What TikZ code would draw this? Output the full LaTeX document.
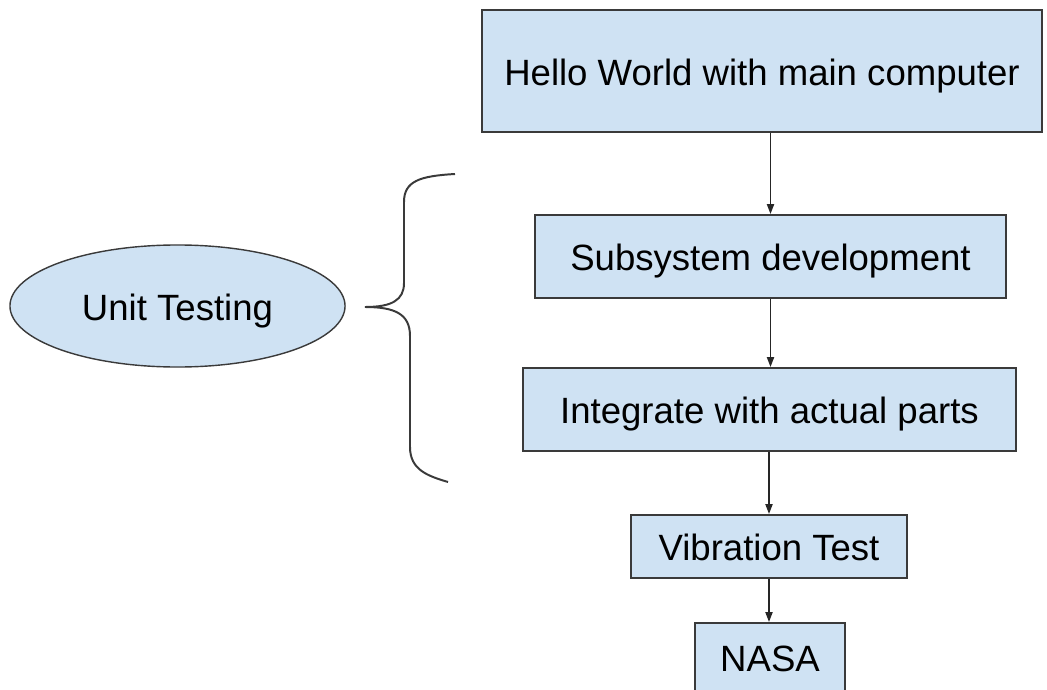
\documentclass[tikz,border=0pt]{standalone}
\usepackage{fontspec}
\setmainfont{Liberation Sans}
\usetikzlibrary{shapes.geometric, arrows.meta}
\definecolor{boxblue}{HTML}{CFE2F3}
\definecolor{edgegray}{HTML}{3A3A3A}

\begin{document}
\begin{tikzpicture}[
    x=0.025cm, y=-0.025cm,
    stage/.style={rectangle, draw=edgegray, line width=1.4pt, fill=boxblue, inner sep=0pt, font=\fontsize{26}{30}\selectfont, text height=20pt, text depth=0pt},
    bubble/.style={ellipse, draw=edgegray, line width=1pt, fill=boxblue, inner sep=0pt, font=\fontsize{26}{30}\selectfont, text height=20pt, text depth=0pt},
    arrow/.style={-{Triangle[length=2.5mm, width=1.8mm]}, line width=1.1pt, draw=black!85}
]
\clip (0,0) rectangle (1047,690);

% Flow boxes
\node[stage, minimum width=14cm, minimum height=3.05cm] (hello) at (762, 71) {Hello World with main computer};
\node[stage, minimum width=11.775cm, minimum height=2.075cm] (subsys) at (770.5, 256.5) {Subsystem development};
\node[stage, minimum width=12.325cm, minimum height=2.075cm] (integ) at (769.5, 409.5) {Integrate with actual parts};
\node[stage, minimum width=6.9cm, minimum height=1.575cm] (vibr) at (769, 546.5) {Vibration Test};
\node[stage, minimum width=3.75cm, minimum height=1.725cm] (nasa) at (770, 657.5) {NASA};

% Unit testing group
\node[bubble, minimum width=8.375cm, minimum height=3.05cm] (unit) at (177.5, 306) {Unit Testing};
\draw[line width=1.4pt, edgegray] (455,174) .. controls (420,176) and (404,181) .. (404,202)
    -- (404,283) .. controls (404,300) and (392,307) .. (365,307)
    .. controls (395,307) and (410,314) .. (410,336)
    -- (410,447) .. controls (410,470) and (428,476) .. (448,482);

% Connections
\draw[arrow] (hello.south -| subsys.north) -- (subsys.north);
\draw[arrow] (subsys.south) -- (subsys.south |- integ.north);
\draw[arrow] (integ.south -| vibr.north) -- (vibr.north);
\draw[arrow] (vibr.south) -- (vibr.south |- nasa.north);
\end{tikzpicture}
\end{document}
